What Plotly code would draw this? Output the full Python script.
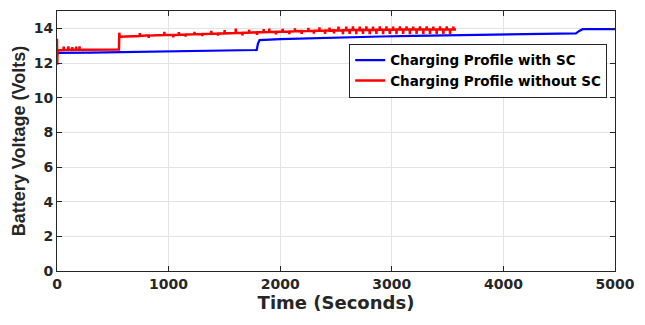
import plotly.graph_objects as go

# Blue: charging profile with SC
t_sc = [0, 5, 300, 600, 900, 1200, 1500, 1790, 1800, 1815, 2000, 2300, 2600, 2900, 3200, 3500, 3800, 4100, 4400, 4650, 4680, 4710, 5000]
v_sc = [12.45, 12.58, 12.6, 12.63, 12.66, 12.69, 12.72, 12.75, 13.1, 13.32, 13.38, 13.44, 13.5, 13.53, 13.56, 13.59, 13.62, 13.65, 13.68, 13.71, 13.85, 13.95, 13.96]

# Red: charging profile without SC
t_nosc = [0, 2, 4, 8, 20, 58, 60, 62, 100, 102, 104, 135, 137, 139, 170, 172, 174, 200, 202, 204, 555, 558, 562, 566, 600,
          640, 700, 740, 742, 744, 800, 820, 822, 824, 900, 960, 962, 964, 1040, 1042, 1044, 1090, 1092, 1094,
          1150, 1152, 1154, 1230, 1232, 1234, 1300, 1302, 1304, 1380, 1382, 1384, 1440, 1442, 1444, 1500, 1502, 1504,
          1600, 1602, 1604, 1660, 1662, 1664, 1720, 1722, 1724, 1790, 1792, 1794, 1850, 1852, 1854, 1900, 1902, 1904,
          1960, 1962, 1964, 2020, 2022, 2024, 2080, 2082, 2084, 2130, 2132, 2134, 2190, 2192, 2194, 2250, 2252, 2254,
          2300, 2302, 2304, 2350, 2352, 2354, 2400, 2402, 2404, 2440, 2442, 2444, 2480, 2482, 2484, 2520, 2522, 2524,
          2560, 2562, 2564, 2590, 2592, 2594, 2620, 2622, 2624, 2650, 2652, 2654, 2680, 2682, 2684, 2710, 2712, 2714,
          2740, 2742, 2744, 2770, 2772, 2774, 2800, 2802, 2804, 2830, 2832, 2834, 2860, 2862, 2864, 2890, 2892, 2894,
          2920, 2922, 2924, 2950, 2952, 2954, 2980, 2982, 2984, 3010, 3012, 3014, 3040, 3042, 3044, 3070, 3072, 3074,
          3100, 3102, 3104, 3130, 3132, 3134, 3160, 3162, 3164, 3190, 3192, 3194, 3220, 3222, 3224, 3250, 3252, 3254,
          3280, 3282, 3284, 3310, 3312, 3314, 3340, 3342, 3344, 3370, 3372, 3374, 3400, 3402, 3404, 3430, 3432, 3434,
          3460, 3462, 3464, 3490, 3492, 3494, 3520, 3522, 3524, 3550, 3552, 3554, 3575]
v_nosc = [13.4, 11.9, 12.6, 12.7, 12.74, 12.75, 12.95, 12.75, 12.76, 12.96, 12.76, 12.76, 12.92, 12.76, 12.77, 12.95, 12.77, 12.77, 12.96, 12.77, 12.78, 13.75, 13.45, 13.52, 13.52,
          13.54, 13.56, 13.56, 13.72, 13.56, 13.58, 13.58, 13.45, 13.58, 13.6, 13.61, 13.8, 13.61, 13.62, 13.48, 13.62, 13.63, 13.78, 13.63,
          13.64, 13.52, 13.64, 13.66, 13.8, 13.66, 13.67, 13.55, 13.67, 13.69, 13.85, 13.69, 13.7, 13.58, 13.7, 13.71, 13.9, 13.71,
          13.73, 13.98, 13.73, 13.74, 13.6, 13.74, 13.75, 13.92, 13.75, 13.77, 13.62, 13.77, 13.78, 13.95, 13.78, 13.79, 13.98, 13.79,
          13.8, 13.65, 13.8, 13.81, 13.97, 13.81, 13.82, 13.66, 13.82, 13.83, 14.0, 13.83, 13.84, 13.68, 13.84, 13.85, 14.03, 13.85,
          13.86, 13.7, 13.86, 13.86, 14.06, 13.86, 13.87, 13.68, 13.87, 13.87, 14.05, 13.87, 13.88, 13.7, 13.88, 13.88, 14.1, 13.88,
          13.89, 13.66, 13.89, 13.89, 14.1, 13.89, 13.9, 13.68, 13.9, 13.9, 14.12, 13.9, 13.9, 13.66, 13.9, 13.9, 14.1, 13.9,
          13.91, 13.68, 13.91, 13.91, 14.12, 13.91, 13.91, 13.66, 13.91, 13.91, 14.1, 13.91, 13.92, 13.68, 13.92, 13.92, 14.12, 13.92,
          13.92, 13.66, 13.92, 13.92, 14.12, 13.92, 13.92, 13.68, 13.92, 13.92, 14.1, 13.92, 13.93, 13.66, 13.93, 13.93, 14.12, 13.93,
          13.93, 13.68, 13.93, 13.93, 14.12, 13.93, 13.93, 13.66, 13.93, 13.93, 14.1, 13.93, 13.93, 13.68, 13.93, 13.93, 14.12, 13.93,
          13.93, 13.66, 13.93, 13.93, 14.12, 13.93, 13.93, 13.68, 13.93, 13.93, 14.1, 13.93, 13.93, 13.66, 13.93, 13.93, 14.12, 13.93,
          13.93, 13.68, 13.93, 13.93, 14.12, 13.93, 13.93, 13.66, 13.93, 13.93, 14.1, 13.93, 13.93]

x_ticks = [0, 1000, 2000, 3000, 4000, 5000]
y_ticks = [0, 2, 4, 6, 8, 10, 12, 14]

WIDE = "DejaVu Sans, sans-serif"
NARROW = "Liberation Sans, Arial, sans-serif"
INK = "#262626"

fig = go.Figure()
fig.add_trace(go.Scatter(x=t_sc, y=v_sc, mode="lines", name="Charging Profile with SC",
                         line=dict(color="#0000ff", width=2.2)))
fig.add_trace(go.Scatter(x=t_nosc, y=v_nosc, mode="lines", name="Charging Profile without SC",
                         line=dict(color="#ff0000", width=2.5)))

axis_common = dict(showline=True, linecolor=INK, linewidth=1, mirror="ticks",
                   ticks="inside", ticklen=5, tickcolor=INK,
                   showgrid=True, gridcolor="#e3e3e3", gridwidth=1, zeroline=False,
                   ticklabeloverflow="allow",
                   tickfont=dict(family=WIDE, size=14, color=INK, weight="bold"))

fig.update_layout(
    width=645, height=325,
    margin=dict(l=57, r=20, t=10, b=54),
    plot_bgcolor="white", paper_bgcolor="white",
    xaxis=dict(range=[0, 5000], tickvals=x_ticks, ticktext=[str(v) for v in x_ticks],
               title=dict(text="<b>Time (Seconds)</b>", font=dict(family=WIDE, size=18, color=INK), standoff=4),
               **axis_common),
    yaxis=dict(range=[0, 15], tickvals=y_ticks, ticktext=[str(v) for v in y_ticks],
               title=dict(text="<b>Battery Voltage (Volts)</b>", font=dict(family=NARROW, size=18, color=INK), standoff=3),
               **axis_common),
    legend=dict(x=0.986, y=0.874, xanchor="right", yanchor="top",
                bgcolor="white", bordercolor=INK, borderwidth=1,
                font=dict(family=WIDE, size=13.5, color="black", weight="bold"),
                itemwidth=30, tracegroupgap=0),
    showlegend=True,
)

fig.write_html("out.html")
